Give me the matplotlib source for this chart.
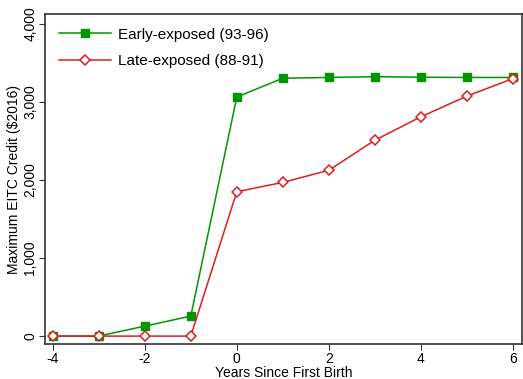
import matplotlib.pyplot as plt
import matplotlib.ticker as mticker

plt.rcParams['font.family'] = ['Liberation Sans', 'DejaVu Sans']
plt.rcParams['axes.unicode_minus'] = False

years = [-4, -3, -2, -1, 0, 1, 2, 3, 4, 5, 6]
early = [0, 0, 128, 256, 3064, 3305, 3315, 3325, 3318, 3315, 3315]
late = [0, 0, 0, 0, 1850, 1970, 2125, 2510, 2810, 3075, 3300]

green = '#009600'
red = '#dc1e1e'

fig = plt.figure(figsize=(5.23, 3.79), dpi=100)
ax = fig.add_axes([0.086, 0.092, 0.912, 0.871])

ax.plot(years, early, color=green, lw=1.1, marker='s', ms=6, mfc=green, mec=green,
        label='Early-exposed (93-96)')
ax.plot(years, late, color=red, lw=1.1, marker='D', ms=5, mfc='white', mec=red, mew=1.1,
        label='Late-exposed (88-91)')

ax.set_xlim(-4.17, 6.2)
ax.set_ylim(-103, 4128)
ax.set_xticks([-4, -2, 0, 2, 4, 6])
ax.set_yticks([0, 1000, 2000, 3000, 4000])
ax.yaxis.set_major_formatter(mticker.FuncFormatter(lambda v, p: f'{int(v):,}'))
ax.tick_params(labelsize=10, length=4, pad=1.5, color='#333333')
for lab in ax.get_yticklabels():
    lab.set_rotation(90)
    lab.set_va('center')

for s in ax.spines.values():
    s.set_color('#333333')
    s.set_linewidth(1.2)

ax.set_xlabel('Years Since First Birth', fontsize=10, labelpad=0)
ax.set_ylabel('Maximum EITC Credit (\\$2016)', fontsize=10, labelpad=2)

ax.legend(loc='upper left', frameon=False, fontsize=11, handlelength=3.4,
          handletextpad=0.45, labelspacing=0.8, borderaxespad=0.5,
          bbox_to_anchor=(0.0, 1.0))

fig.savefig('out.png', dpi=100)
